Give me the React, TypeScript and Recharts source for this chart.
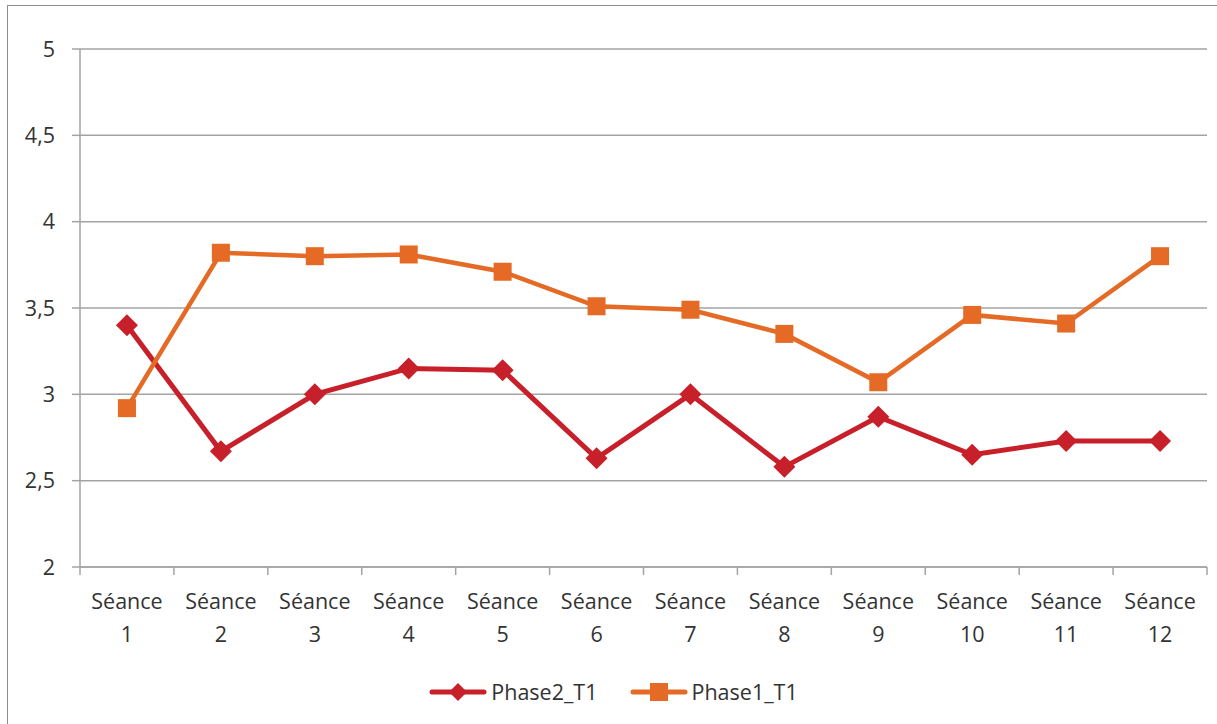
import { LineChart, Line, XAxis, YAxis, CartesianGrid, Legend } from 'recharts';

// Séances 1 to 12, two phases
const categories = ['1', '2', '3', '4', '5', '6', '7', '8', '9', '10', '11', '12'];
const phase2T1 = [3.4, 2.67, 3.0, 3.15, 3.14, 2.63, 3.0, 2.58, 2.87, 2.65, 2.73, 2.73];
const phase1T1 = [2.92, 3.82, 3.8, 3.81, 3.71, 3.51, 3.49, 3.35, 3.07, 3.46, 3.41, 3.8];
const yTicks = [2, 2.5, 3, 3.5, 4, 4.5, 5];

const RED = '#C8202A';
const ORANGE = '#E46A25';
const GRID = '#A3A3A3';
const TEXT = '#333333';
const FONT = '"Open Sans", "Noto Sans", sans-serif';

const W = 1217;
const H = 724;
const PLOT_LEFT = 80;
const PLOT_RIGHT = 1207;
const BAND = (PLOT_RIGHT - PLOT_LEFT) / categories.length;

const data = categories.map((c, i) => ({
  name: `Séance ${c}`,
  num: c,
  phase2: phase2T1[i],
  phase1: phase1T1[i],
}));

function Diamond({ cx, cy, size = 11 }: any) {
  if (cx == null || cy == null) return null;
  return (
    <path
      d={`M${cx},${cy - size} L${cx + size},${cy} L${cx},${cy + size} L${cx - size},${cy} Z`}
      fill={RED}
    />
  );
}

function Square({ cx, cy, size = 9 }: any) {
  if (cx == null || cy == null) return null;
  return <rect x={cx - size} y={cy - size} width={size * 2} height={size * 2} fill={ORANGE} />;
}

function XTick({ x, y, payload, index }: any) {
  const num = data[index]?.num ?? '';
  return (
    <g>
      <line x1={x - BAND / 2} y1={y} x2={x - BAND / 2} y2={y + 8} stroke={GRID} strokeWidth={1.5} />
      {index === categories.length - 1 && (
        <line x1={x + BAND / 2} y1={y} x2={x + BAND / 2} y2={y + 8} stroke={GRID} strokeWidth={1.5} />
      )}
      <text x={x} y={y + 42} textAnchor="middle" fill={TEXT} fontSize={21.5} fontFamily={FONT}>
        {payload.value.split(' ')[0]}
      </text>
      <text x={x} y={y + 75} textAnchor="middle" fill={TEXT} fontSize={21.5} fontFamily={FONT}>
        {num}
      </text>
    </g>
  );
}

function LegendContent() {
  const items = [
    { label: 'Phase2_T1', color: RED, marker: 'diamond' },
    { label: 'Phase1_T1', color: ORANGE, marker: 'square' },
  ];
  return (
    <div style={{ display: 'flex', justifyContent: 'center', gap: 32, paddingTop: 20, marginLeft: 20 }}>
      {items.map((it) => (
        <div key={it.label} style={{ display: 'flex', alignItems: 'center', gap: 4 }}>
          <svg width={58} height={24}>
            <line x1={3} y1={12} x2={55} y2={12} stroke={it.color} strokeWidth={5} strokeLinecap="round" />
            {it.marker === 'diamond' ? (
              <path d="M29,3 L38,12 L29,21 L20,12 Z" fill={it.color} />
            ) : (
              <rect x={20} y={3} width={18} height={18} fill={it.color} />
            )}
          </svg>
          <span style={{ fontFamily: FONT, fontSize: 21.5, color: TEXT }}>{it.label}</span>
        </div>
      ))}
    </div>
  );
}

export default function App() {
  return (
    <div style={{ position: 'absolute', left: 0, top: 0, width: W, height: H, overflow: 'hidden', background: '#fff' }}>
      <div
        style={{
          position: 'absolute',
          left: 7,
          top: 5,
          width: W + 20,
          height: H + 20,
          border: '1.5px solid #8C8C8C',
        }}
      />
      <div style={{ position: 'absolute', left: 0, top: 0 }}>
        <LineChart
          width={W}
          height={H}
          data={data}
          margin={{ top: 49, right: W - PLOT_RIGHT, left: 0, bottom: 0 }}
        >
          <CartesianGrid vertical={false} stroke={GRID} strokeWidth={1.5} />
          <XAxis
            dataKey="name"
            interval={0}
            height={90}
            stroke={GRID}
            strokeWidth={1.5}
            tickLine={false}
            tickSize={0}
            tickMargin={0}
            padding={{ left: BAND / 2, right: BAND / 2 }}
            tick={<XTick />}
          />
          <YAxis
            domain={[2, 5]}
            ticks={yTicks}
            width={PLOT_LEFT}
            stroke={GRID}
            strokeWidth={1.5}
            tickSize={8}
            tickMargin={17}
            tickFormatter={(v: number) => String(v).replace('.', ',')}
            tick={{ fill: TEXT, fontSize: 21.5, fontFamily: FONT }}
          />
          <Legend verticalAlign="bottom" height={67} content={<LegendContent />} />
          <Line
            type="linear"
            dataKey="phase2"
            name="Phase2_T1"
            stroke={RED}
            strokeWidth={5}
            dot={<Diamond />}
            activeDot={false}
            isAnimationActive={false}
          />
          <Line
            type="linear"
            dataKey="phase1"
            name="Phase1_T1"
            stroke={ORANGE}
            strokeWidth={4.5}
            dot={<Square />}
            activeDot={false}
            isAnimationActive={false}
          />
        </LineChart>
      </div>
    </div>
  );
}
